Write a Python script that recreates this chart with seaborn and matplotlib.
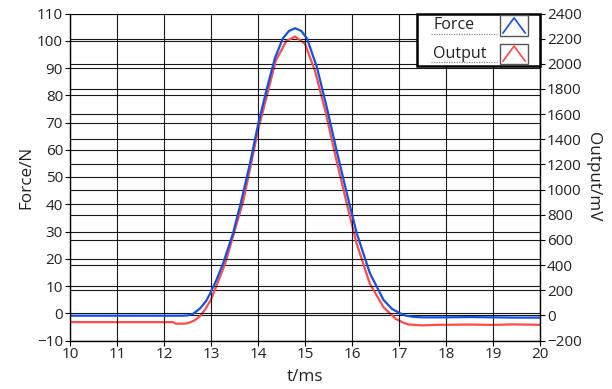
import matplotlib
matplotlib.use("Agg")
import matplotlib.pyplot as plt
import seaborn as sns
import pandas as pd
from matplotlib.legend_handler import HandlerBase
from matplotlib.patches import Rectangle
from matplotlib.lines import Line2D
from matplotlib.text import Text

# ---- data ----
t_ms = [10.0, 11.0, 12.0, 12.2, 12.4, 12.5, 12.62, 12.77, 12.9, 12.98, 13.12, 13.26, 13.47,
        13.65, 13.83, 14.0, 14.18, 14.36, 14.53, 14.66, 14.79, 14.92, 15.04, 15.25,
        15.46, 15.67, 15.89, 16.1, 16.38, 16.67, 16.85, 17.02, 17.15, 17.3, 17.5,
        18.0, 18.5, 19.0, 19.5, 20.0]
force_N = [-0.9, -0.9, -0.9, -0.9, -0.9, -0.8, -0.2, 1.8, 4.6, 7.2, 12.4, 18.4, 29.4,
           41.6, 55.0, 69.1, 81.9, 93.6, 100.9, 103.6, 104.6, 103.6, 100.9, 90.5,
           75.8, 59.9, 44.0, 29.4, 14.7, 4.9, 1.6, 0.0, -0.9, -1.3, -1.5,
           -1.5, -1.4, -1.5, -1.6, -1.6]

t_out = [10.0, 11.0, 12.0, 12.19, 12.25, 12.45, 12.55, 12.65, 12.77, 12.88, 13.0,
         13.3, 13.69, 14.0, 14.38, 14.6, 14.79, 15.0, 15.21, 15.43, 15.67, 15.89,
         16.1, 16.38, 16.67, 16.93, 17.1, 17.21, 17.5, 17.8, 18.0, 18.5, 19.0, 19.4, 20.0]
output_mV = [-54, -54, -54, -54, -66, -66, -56, -40, -5, 50, 125,
             410, 913, 1470, 2026, 2180, 2217, 2159, 1947, 1629, 1231, 887,
             569, 251, 65, -28, -60, -73, -80, -75, -75, -73, -76, -72, -75]

series_names = ["Force", "Output"]
x_ticks = list(range(10, 21))
force_ticks = list(range(-10, 111, 10))
output_ticks = list(range(-200, 2401, 200))

df_force = pd.DataFrame({"t": t_ms, "Force": force_N})
df_out = pd.DataFrame({"t": t_out, "Output": output_mV})

sns.set_theme(style="white")
plt.rcParams["font.family"] = ["Open Sans", "DejaVu Sans"]

BLUE = "#1450E6"
RED = "#FF4A4A"
TXT = "#222222"
DPI = 100
TICK_FS = 11
LABEL_FS = 12.3

fig = plt.figure(figsize=(6.12, 3.89), dpi=DPI)
ax = fig.add_axes([70 / 612, 1 - 340.5 / 389, 470 / 612, 327 / 389])
ax2 = ax.twinx()
ax.set_zorder(ax2.get_zorder() + 1)
ax.patch.set_visible(False)
ax2.patch.set_facecolor("white")

sns.lineplot(data=df_out, x="t", y="Output", ax=ax2, color=RED, linewidth=1.6, sort=False)
sns.lineplot(data=df_force, x="t", y="Force", ax=ax, color=BLUE, linewidth=1.6, sort=False)

ax.set_xlim(10, 20)
ax.set_ylim(-10, 110)
ax2.set_ylim(-200, 2400)
ax.set_xticks(x_ticks)
ax.set_yticks(force_ticks)
ax2.set_yticks(output_ticks)

grid_kw = dict(color="black", linewidth=0.8, alpha=0.9)
ax.grid(True, axis="both", **grid_kw)
ax2.grid(True, axis="y", **grid_kw)
ax.set_axisbelow(True)
ax2.set_axisbelow(True)

for a in (ax, ax2):
    for s in a.spines.values():
        s.set_visible(False)
ax.spines["left"].set_visible(True)
ax.spines["bottom"].set_visible(True)
ax2.spines["right"].set_visible(True)
for s in (ax.spines["left"], ax.spines["bottom"], ax2.spines["right"]):
    s.set_color("black")
    s.set_linewidth(1.0)

ax.tick_params(axis="both", which="major", direction="out", length=3.5, width=0.8,
               color="black", labelsize=TICK_FS, labelcolor=TXT, pad=1.5,
               left=True, bottom=True)
ax2.tick_params(axis="y", which="major", direction="out", length=3.5, width=0.8,
                color="black", labelsize=TICK_FS, labelcolor=TXT, pad=1.5, right=True)

ax.set_xlabel("t/ms", fontsize=LABEL_FS, color=TXT, labelpad=4.5)
ax.set_ylabel("Force/N", fontsize=LABEL_FS, color=TXT, labelpad=2)
ax2.set_ylabel("Output/mV", fontsize=LABEL_FS, color=TXT, rotation=270, labelpad=14)

LEG_FS = 11.5
PX = LEG_FS * DPI / 72.0  # pixels per font-size unit


class LabelCaretBox(HandlerBase):
    """Draws the label text (left aligned) followed by a boxed caret icon."""

    def create_artists(self, legend, orig_handle, xdescent, ydescent, width, height,
                       fontsize, trans):
        x0, y0 = -xdescent, -ydescent
        px = width / 119.0  # handle width spans 119 px of the reference legend
        cy = y0 + height / 2
        txt = Text(x0 + 14 * px, cy, orig_handle.get_label(), fontsize=fontsize,
                   color=TXT, ha="left", va="center", transform=trans)
        under = Line2D([x0 + 12 * px, x0 + 78 * px], [y0 + 1.0] * 2,
                       color="#888888", linewidth=0.9, linestyle=(0, (1, 1)),
                       transform=trans)
        bx0, bw = x0 + 81 * px, 28 * px
        rect = Rectangle((bx0, y0), bw, height, facecolor="white",
                         edgecolor="#555555", linewidth=1.0, transform=trans)
        caret = Line2D([bx0 + 0.1 * bw, bx0 + 0.5 * bw, bx0 + 0.9 * bw],
                       [y0 + 0.12 * height, y0 + 0.88 * height, y0 + 0.12 * height],
                       color=orig_handle.get_color(), linewidth=1.2, transform=trans)
        return [under, txt, rect, caret]


h_force = Line2D([], [], color=BLUE, label=series_names[0])
h_out = Line2D([], [], color=RED, label=series_names[1])
leg = ax.legend([h_force, h_out], ["", ""], loc="upper right",
                handler_map={Line2D: LabelCaretBox()},
                frameon=True, fancybox=False, borderaxespad=0.0, borderpad=0.12,
                handlelength=119 / PX, handleheight=25 / PX, handletextpad=0.0,
                labelspacing=8 / PX, fontsize=LEG_FS)
leg.get_frame().set_edgecolor("black")
leg.get_frame().set_linewidth(1.8)
leg.get_frame().set_facecolor("white")
leg.get_frame().set_alpha(1.0)

fig.savefig("out.png", dpi=DPI)
